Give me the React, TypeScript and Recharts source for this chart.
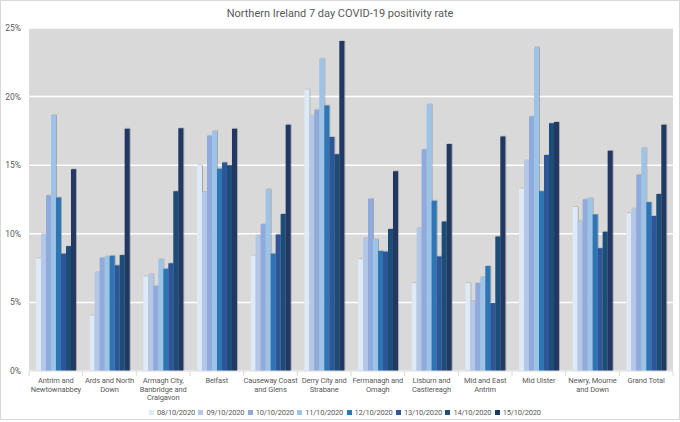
import React from 'react';
import { BarChart, Bar, XAxis, YAxis, CartesianGrid } from 'recharts';

const categories = [
  'Antrim and\nNewtownabbey',
  'Ards and North\nDown',
  'Armagh City,\nBanbridge and\nCraigavon',
  'Belfast',
  'Causeway Coast\nand Glens',
  'Derry City and\nStrabane',
  'Fermanagh and\nOmagh',
  'Lisburn and\nCastlereagh',
  'Mid and East\nAntrim',
  'Mid Ulster',
  'Newry, Mourne\nand Down',
  'Grand Total',
];

const seriesNames = ['08/10/2020', '09/10/2020', '10/10/2020', '11/10/2020', '12/10/2020', '13/10/2020', '14/10/2020', '15/10/2020'];
const seriesColors = ['#DEEBF7', '#B4C7E7', '#8FAADC', '#9DC3E6', '#2E75B6', '#2F5597', '#1F4E79', '#203864'];

const s08 = [8.2, 4.05, 6.9, 15.0, 8.4, 20.5, 8.15, 6.4, 6.4, 13.3, 11.95, 11.5];
const s09 = [10.0, 7.2, 7.05, 13.05, 9.9, 18.6, 9.7, 10.4, 5.1, 15.35, 10.95, 11.85];
const s10 = [12.8, 8.25, 6.2, 17.15, 10.7, 19.05, 12.55, 16.15, 6.4, 18.55, 12.5, 14.3];
const s11 = [18.65, 8.35, 8.15, 17.5, 13.25, 22.75, 9.6, 19.45, 6.85, 23.6, 12.6, 16.25];
const s12 = [12.65, 8.4, 7.45, 14.75, 8.55, 19.35, 8.75, 12.4, 7.65, 13.1, 11.4, 12.3];
const s13 = [8.55, 7.7, 7.85, 15.2, 9.95, 17.05, 8.7, 8.35, 4.95, 15.75, 8.95, 11.3];
const s14 = [9.1, 8.45, 13.1, 15.0, 11.45, 15.8, 10.35, 10.9, 9.8, 18.05, 10.15, 12.9];
const s15 = [14.7, 17.65, 17.7, 17.65, 17.95, 24.05, 14.55, 16.55, 17.1, 18.15, 16.05, 17.95];

const seriesValues = [s08, s09, s10, s11, s12, s13, s14, s15];
const yTicks = [0, 5, 10, 15, 20, 25];

const data = categories.map((c, i) => {
  const row: Record<string, any> = { name: c };
  seriesNames.forEach((s, k) => {
    row[s] = seriesValues[k][i];
  });
  return row;
});

const FONT = '"Liberation Sans Narrow", Roboto, sans-serif';
const TEXT = '#595959';

const CategoryTick = (props: any) => {
  const { x, y, payload, index } = props;
  const lines = String(payload.value).split('\n');
  const half = 53.67 / 2;
  return (
    <g>
      <line x1={x - half} x2={x - half} y1={y - 8} y2={y - 3} stroke="#d9d9d9" />
      {index === categories.length - 1 && (
        <line x1={x + half} x2={x + half} y1={y - 8} y2={y - 3} stroke="#d9d9d9" />
      )}
      <text x={x} y={y} textAnchor="middle" fill={TEXT} fontSize={7.5} fontFamily={FONT} letterSpacing={-0.1}>
        {lines.map((l, i) => (
          <tspan key={i} x={x} dy={i === 0 ? 4 : 8.5}>
            {l}
          </tspan>
        ))}
      </text>
    </g>
  );
};

export default function App() {
  return (
    <div style={{ position: 'absolute', left: 0, top: 0, width: 680, height: 422, background: '#fff' }}>
      <div
        style={{
          position: 'absolute',
          left: 0,
          top: 0,
          width: 680,
          height: 420,
          boxSizing: 'border-box',
          border: '1px solid #d9d9d9',
        }}
      />
      <div
        style={{
          position: 'absolute',
          left: 0,
          top: 7,
          width: 680,
          textAlign: 'center',
          fontFamily: FONT,
          fontSize: 11,
          lineHeight: '14px',
          color: TEXT,
        }}
      >
        Northern Ireland 7 day COVID-19 positivity rate
      </div>
      <div style={{ position: 'absolute', left: 0, top: 0 }}>
        <BarChart
          width={680}
          height={422}
          data={data}
          margin={{ top: 28, right: 7, left: 0, bottom: 0 }}
          barCategoryGap="13%"
          barGap={0}
        >
          <defs>
            <filter id="shd" x="-50%" y="-10%" width="200%" height="120%">
              <feDropShadow dx="0.8" dy="-0.4" stdDeviation="0.4" floodColor="#000" floodOpacity="0.3" />
            </filter>
          </defs>
          <CartesianGrid vertical={false} stroke="#ffffff" strokeWidth={1.5} fill="#d9d9d9" />
          <XAxis
            dataKey="name"
            interval={0}
            height={51}
            axisLine={{ stroke: '#d9d9d9' }}
            tickLine={false}
            tick={<CategoryTick />}
          />
          <YAxis
            width={29}
            domain={[0, 25]}
            ticks={yTicks}
            axisLine={false}
            tickLine={false}
            tickFormatter={(v: number) => `${v}%`}
            tick={{ fill: TEXT, fontSize: 8.5, fontFamily: FONT }}
          />
          {seriesNames.map((s, k) => (
            <Bar key={s} dataKey={s} fill={seriesColors[k]} isAnimationActive={false} style={{ filter: 'url(#shd)' }} />
          ))}
        </BarChart>
      </div>
      {seriesNames.map((s, k) => (
        <div
          key={s}
          style={{
            position: 'absolute',
            left: 149 + k * 49.4,
            top: 406,
            height: 12,
            display: 'flex',
            alignItems: 'center',
            fontFamily: FONT,
            fontSize: 7.5,
            letterSpacing: -0.2,
            color: TEXT,
            whiteSpace: 'nowrap',
          }}
        >
          <span style={{ display: 'inline-block', width: 5, height: 5, background: seriesColors[k], marginRight: 3 }} />
          {s}
        </div>
      ))}
    </div>
  );
}
